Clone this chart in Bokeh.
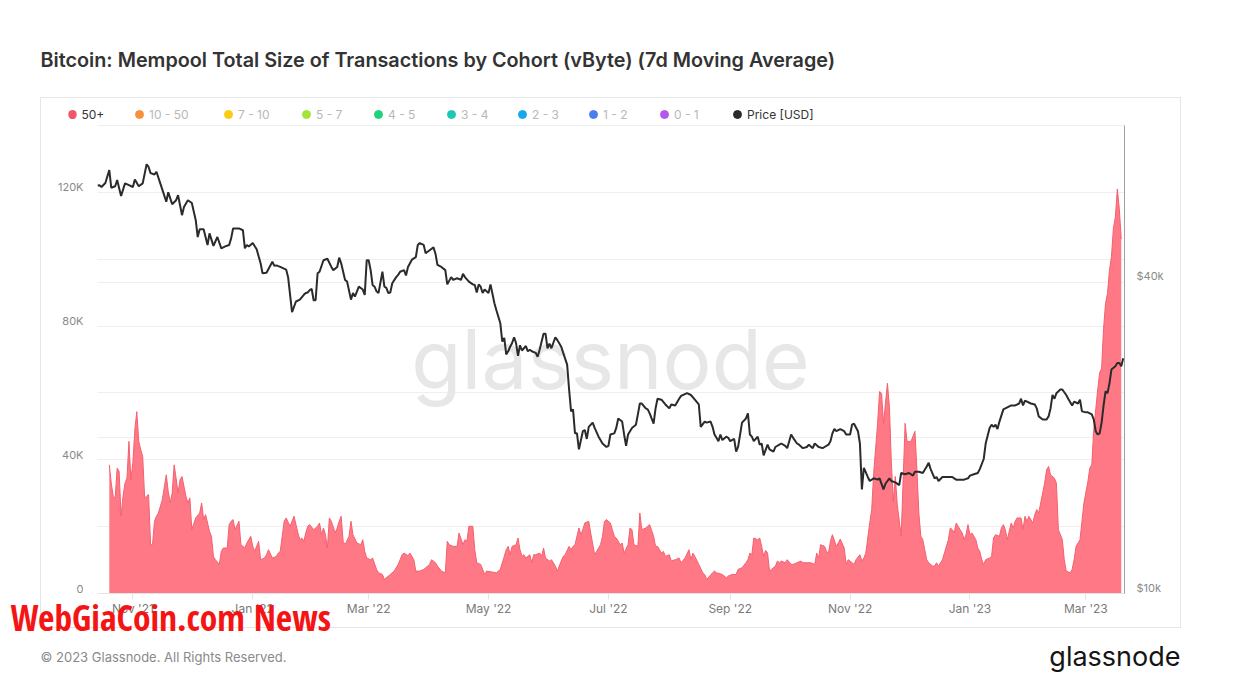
from datetime import datetime, timedelta
from bokeh.plotting import figure
from bokeh.models import (Range1d, LogAxis, LogScale, FixedTicker, DatetimeTickFormatter,
                          Grid, Label, Legend, LegendItem)
from bokeh.embed import file_html
from bokeh.resources import INLINE

# ---------------- data ----------------
BASE = datetime(2021, 10, 14)   # day 0 of the offsets below

price_day = [0, 1, 2, 4, 6, 7, 9, 10, 12, 14,
             16, 18, 19, 21, 23, 25, 26, 27, 29, 30,
             33, 35, 36, 38, 40, 41, 43, 44, 46, 48,
             50, 51, 52, 54, 56, 57, 59, 61, 63, 65,
             67, 68, 69, 72, 74, 75, 76, 77, 79, 81,
             83, 84, 86, 89, 90, 91, 93, 96, 97, 99,
             101, 103, 105, 106, 107, 108, 109, 110, 111, 112,
             113, 115, 117, 119, 120, 122, 123, 124, 126, 127,
             129, 130, 131, 133, 135, 136, 137, 138, 139, 140,
             141, 142, 143, 145, 146, 147, 148, 149, 150, 152,
             153, 154, 156, 157, 158, 160, 162, 163, 164, 166,
             167, 169, 171, 172, 173, 175, 177, 178, 180, 181,
             183, 185, 186, 187, 189, 191, 192, 193, 194, 195,
             196, 197, 199, 200, 202, 203, 205, 206, 207, 208,
             209, 210, 211, 212, 213, 214, 215, 216, 218, 219,
             220, 221, 223, 224, 225, 227, 228, 229, 230, 231,
             233, 234, 236, 237, 239, 240, 241, 242, 243, 244,
             245, 247, 248, 249, 250, 252, 253, 255, 257, 259,
             260, 261, 263, 264, 265, 267, 268, 269, 270, 272,
             274, 275, 276, 277, 279, 280, 281, 283, 284, 285,
             287, 289, 291, 292, 294, 296, 297, 300, 302, 304,
             306, 307, 309, 310, 312, 313, 314, 315, 316, 317,
             318, 320, 321, 322, 324, 325, 326, 328, 330, 331,
             332, 333, 334, 336, 337, 338, 339, 341, 342, 344,
             345, 347, 348, 350, 351, 353, 354, 356, 357, 359,
             361, 362, 364, 365, 367, 369, 370, 372, 373, 374,
             375, 376, 378, 380, 381, 383, 384, 385, 387, 388,
             389, 390, 392, 393, 395, 397, 398, 400, 401, 403,
             404, 406, 408, 409, 411, 413, 415, 416, 418, 420,
             422, 423, 424, 426, 427, 428, 430, 432, 433, 435,
             436, 437, 439, 441, 443, 444, 446, 448, 449, 451,
             452, 454, 455, 456, 457, 458, 459, 461, 462, 464,
             465, 467, 469, 470, 471, 472, 475, 477, 478, 479,
             481, 483, 484, 485, 486, 487, 488, 490, 491, 493,
             494, 496, 497, 499, 500, 501, 503, 504, 506, 507,
             508, 509, 510, 511, 512, 513, 514, 515, 516, 518,
             519, 520, 521, 522]
price_usd = [61500, 61600, 61100, 62200, 65900, 60900, 61300, 63000, 58700, 62100,
             61600, 61100, 63200, 61300, 62100, 67600, 66800, 65000, 64600, 65400,
             60400, 57200, 59700, 56600, 57600, 58900, 53900, 55900, 57600, 56900,
             52700, 48900, 50600, 50600, 47200, 49700, 47000, 48900, 46500, 46900,
             47200, 48600, 50800, 50800, 50400, 46500, 47200, 46900, 47600, 46300,
             43500, 41600, 41700, 43800, 43000, 43100, 42800, 42300, 40900, 35000,
             36700, 37000, 37800, 38100, 38200, 38600, 38800, 36900, 36900, 41600,
             41900, 44100, 44400, 42800, 42200, 42800, 44600, 43500, 40400, 40100,
             37000, 38100, 37500, 39200, 38700, 37800, 44100, 44100, 42200, 39500,
             39200, 38400, 38100, 41900, 39200, 39000, 38100, 38200, 39800, 40900,
             41300, 41900, 42200, 41200, 42800, 44200, 44700, 47200, 47600, 47200,
             45500, 46100, 46700, 45400, 43200, 42800, 42200, 39600, 40900, 40400,
             40700, 40400, 41500, 40900, 40100, 39600, 39500, 38200, 39600, 39200,
             38100, 38700, 38100, 39600, 36400, 35300, 33300, 30700, 31200, 29000,
             29400, 30000, 30500, 31300, 30500, 28800, 30200, 29500, 30100, 29400,
             29600, 29400, 29200, 28700, 29600, 31800, 31800, 29800, 30400, 29800,
             31300, 30900, 30000, 29200, 27700, 24800, 22500, 22700, 20400, 20400,
             19000, 20600, 20700, 19900, 21000, 21400, 20900, 20100, 19500, 19200,
             19300, 20300, 20400, 20900, 21800, 21500, 20300, 19300, 20300, 20900,
             21200, 22200, 23300, 23300, 22800, 22700, 22300, 21300, 22800, 23800,
             23700, 23200, 22800, 23200, 23100, 23800, 24100, 24400, 24200, 23700,
             23200, 21000, 21500, 21400, 21500, 21000, 20300, 20000, 19700, 20300,
             19800, 20100, 20000, 19700, 19900, 18800, 19200, 21400, 21800, 22300,
             20300, 20100, 19700, 20100, 19400, 19500, 18500, 19400, 19000, 18800,
             19200, 19400, 19500, 19300, 19100, 20300, 20000, 19500, 19400, 19100,
             19200, 19400, 19100, 19500, 19200, 19100, 19200, 19400, 19700, 20400,
             20800, 20600, 20800, 20600, 20300, 20300, 21200, 21300, 20600, 19500,
             15900, 17500, 16800, 16500, 16700, 16600, 16700, 15900, 16300, 16700,
             16500, 16400, 16200, 17100, 17000, 17100, 16900, 17200, 17200, 17100,
             17600, 17900, 17400, 16700, 16800, 16500, 16800, 16800, 16800, 16800,
             16700, 16600, 16600, 16600, 16700, 16900, 17000, 17100, 17400, 18200,
             19500, 20900, 21200, 21000, 21200, 20800, 21500, 22700, 22800, 23000,
             23100, 23100, 23300, 23800, 23100, 23600, 23300, 23200, 22800, 22000,
             21700, 21700, 22000, 22800, 24200, 23800, 24400, 24800, 24800, 24200,
             23800, 23100, 23500, 23300, 23700, 22500, 22400, 22400, 22200, 21700,
             20600, 20300, 20400, 21400, 23100, 24600, 24400, 25500, 27100, 27500,
             27900, 27900, 27500, 28500]

# 50+ cohort mempool size, in thousands of vBytes
mempool_day = [6, 7, 8, 9, 10, 11, 12, 13, 14, 15,
               16, 17, 18, 19, 20, 21, 22, 23, 24, 25,
               26, 27, 28, 29, 30, 31, 33, 35, 36, 37,
               38, 39, 40, 41, 42, 43, 45, 46, 47, 48,
               50, 52, 53, 54, 55, 57, 58, 59, 60, 62,
               63, 64, 66, 67, 68, 69, 70, 72, 73, 75,
               76, 78, 79, 80, 82, 83, 85, 86, 87, 89,
               91, 92, 93, 95, 96, 98, 100, 102, 103, 104,
               105, 106, 107, 108, 110, 111, 112, 113, 114, 115,
               116, 117, 118, 119, 121, 122, 123, 124, 125, 126,
               128, 129, 130, 132, 134, 135, 136, 137, 139, 140,
               142, 143, 145, 146, 148, 149, 151, 153, 154, 155,
               156, 158, 159, 161, 162, 164, 166, 167, 169, 170,
               172, 173, 175, 177, 178, 179, 181, 183, 184, 186,
               187, 188, 189, 191, 192, 193, 195, 197, 198, 201,
               203, 205, 207, 208, 209, 210, 211, 213, 214, 215,
               216, 217, 218, 220, 221, 222, 223, 225, 226, 227,
               228, 230, 231, 233, 234, 236, 237, 238, 240, 241,
               242, 243, 245, 246, 247, 248, 250, 251, 253, 254,
               256, 257, 258, 259, 261, 262, 263, 264, 266, 267,
               268, 270, 271, 272, 273, 275, 276, 277, 279, 280,
               281, 283, 284, 285, 287, 288, 289, 291, 292, 294,
               296, 297, 299, 301, 302, 303, 304, 306, 308, 309,
               310, 312, 313, 314, 315, 318, 320, 321, 323, 325,
               326, 328, 330, 331, 332, 333, 334, 336, 337, 338,
               339, 340, 341, 342, 343, 345, 346, 347, 348, 350,
               351, 353, 354, 356, 358, 359, 361, 363, 365, 366,
               367, 368, 370, 371, 372, 373, 374, 376, 377, 378,
               380, 381, 382, 383, 385, 386, 388, 389, 390, 391,
               393, 394, 395, 397, 398, 399, 400, 401, 402, 403,
               404, 405, 406, 407, 409, 410, 411, 412, 414, 416,
               417, 418, 419, 420, 421, 422, 423, 425, 426, 427,
               428, 430, 431, 433, 434, 435, 436, 437, 439, 440,
               441, 442, 443, 444, 445, 447, 448, 449, 450, 451,
               452, 454, 455, 456, 457, 459, 460, 461, 462, 463,
               465, 466, 467, 468, 470, 471, 472, 473, 474, 476,
               477, 478, 479, 480, 482, 483, 484, 485, 487, 488,
               489, 491, 492, 493, 495, 496, 497, 498, 500, 501,
               502, 504, 505, 506, 507, 509, 510, 511, 512, 513,
               514, 515, 516, 517, 518, 519, 520, 521]
mempool_kvb = [38.5, 33.0, 29.1, 28.6, 37.5, 36.5, 23.1, 29.1, 33.0, 34.5,
               45.5, 34.0, 39.0, 49.0, 54.4, 45.5, 43.0, 41.0, 28.6, 29.1,
               29.6, 14.6, 14.6, 21.6, 23.1, 24.1, 28.1, 35.5, 30.5, 27.1,
               30.0, 38.5, 34.5, 30.0, 34.0, 35.0, 29.1, 27.1, 28.6, 19.1,
               22.6, 24.1, 27.1, 22.1, 23.6, 18.6, 17.1, 11.1, 10.1, 8.7,
               12.6, 13.6, 13.6, 20.6, 21.6, 22.1, 19.1, 21.6, 14.6, 13.6,
               15.1, 17.1, 14.1, 12.6, 15.6, 10.1, 10.6, 11.6, 13.1, 10.6,
               11.1, 12.1, 12.6, 21.6, 22.6, 20.1, 23.1, 18.1, 16.1, 16.6,
               15.6, 18.1, 20.1, 20.6, 19.1, 19.6, 20.1, 21.1, 17.6, 19.6,
               17.6, 13.6, 22.6, 21.6, 18.1, 19.6, 21.6, 23.1, 15.6, 14.6,
               17.1, 21.6, 17.6, 15.1, 14.6, 16.1, 12.6, 10.6, 10.1, 10.6,
               7.2, 6.2, 5.7, 4.2, 5.2, 5.7, 6.7, 8.7, 10.1, 11.6,
               12.1, 11.3, 12.1, 10.1, 6.7, 6.7, 7.2, 7.7, 8.7, 10.1,
               9.2, 8.2, 6.7, 6.2, 15.6, 14.6, 14.1, 14.1, 18.1, 14.6,
               16.1, 15.6, 20.1, 20.1, 13.1, 9.2, 8.7, 5.7, 6.7, 6.4,
               6.2, 7.2, 11.1, 13.1, 14.1, 11.6, 14.1, 14.6, 16.6, 13.1,
               11.1, 11.6, 10.6, 11.6, 9.2, 11.6, 11.6, 12.1, 11.1, 13.6,
               10.6, 9.7, 10.1, 8.2, 6.7, 9.7, 11.1, 11.6, 14.1, 13.1,
               14.1, 14.6, 19.6, 17.6, 19.1, 21.1, 21.6, 18.1, 11.6, 12.6,
               14.6, 17.1, 21.6, 22.1, 21.1, 19.1, 17.1, 16.6, 14.6, 15.1,
               12.1, 14.6, 19.6, 19.1, 14.6, 14.1, 24.1, 19.1, 19.6, 20.1,
               20.6, 17.1, 14.1, 14.1, 12.1, 12.6, 11.1, 11.6, 9.7, 10.1,
               10.6, 9.2, 10.6, 13.1, 10.1, 12.1, 11.1, 8.7, 6.2, 5.7,
               4.2, 5.5, 6.2, 6.7, 6.2, 5.7, 4.7, 5.2, 5.7, 5.7,
               7.2, 7.7, 9.2, 10.1, 12.1, 11.6, 16.6, 16.1, 16.6, 14.1,
               11.1, 12.9, 12.1, 6.7, 7.2, 8.2, 9.7, 9.2, 9.7, 9.2,
               10.1, 8.7, 8.7, 9.2, 9.7, 9.2, 9.2, 9.2, 8.7, 12.1,
               10.6, 14.6, 14.1, 12.6, 12.1, 15.6, 17.6, 14.1, 15.1, 16.3,
               13.6, 8.7, 10.1, 9.7, 8.7, 10.1, 11.6, 9.7, 10.6, 12.1,
               21.1, 25.1, 36.0, 50.9, 60.4, 59.9, 50.9, 56.9, 62.9, 55.9,
               39.0, 27.6, 35.0, 26.6, 17.1, 34.0, 50.9, 45.5, 45.5, 48.5,
               37.0, 24.0, 17.1, 16.1, 13.1, 10.1, 9.2, 8.2, 8.2, 9.2,
               8.2, 10.1, 12.1, 16.1, 19.6, 19.1, 18.1, 21.1, 19.1, 18.1,
               16.1, 17.6, 20.6, 17.6, 18.1, 16.1, 13.6, 12.6, 10.1, 8.7,
               10.1, 10.6, 11.1, 16.6, 17.6, 17.1, 19.6, 20.6, 19.1, 16.1,
               21.1, 19.6, 21.6, 22.6, 22.6, 19.1, 23.1, 21.6, 23.1, 21.1,
               23.6, 25.1, 24.1, 27.1, 33.0, 37.0, 38.0, 35.5, 34.5, 33.0,
               19.1, 16.1, 10.1, 6.7, 6.2, 7.2, 10.1, 14.1, 16.1, 21.6,
               27.1, 33.5, 37.5, 38.5, 49.0, 60.9, 66.0, 67.4, 79.3, 86.8,
               89.8, 96.7, 100.7, 109.2, 112.6, 121.0, 115.1, 106.0]

x_tick_dates = [datetime(2021, 11, 1), datetime(2022, 1, 1), datetime(2022, 3, 1),
                datetime(2022, 5, 1), datetime(2022, 7, 1), datetime(2022, 9, 1),
                datetime(2022, 11, 1), datetime(2023, 1, 1), datetime(2023, 3, 1)]
left_grid_ticks = [0, 20, 40, 60, 80, 100, 120, 140]
left_tick_values = [0, 40, 80, 120]
left_tick_labels = ["0", "40K", "80K", "120K"]
right_grid_ticks = [10000, 20000, 40000]
right_tick_values = [10000, 40000]
right_tick_labels = ["$10k", "$40k"]

legend_names = ["50+", "10 - 50", "7 - 10", "5 - 7", "4 - 5", "3 - 4", "2 - 3",
                "1 - 2", "0 - 1", "Price [USD]"]
legend_colors = ["#f2556a", "#f7923a", "#fbcc12", "#a6e23a", "#1fd27c", "#1cc8b4",
                 "#16a7f0", "#4a7ef0", "#b257ef", "#2b2b2b"]
legend_active = [True, False, False, False, False, False, False, False, False, True]

# ---------------- figure ----------------
price_x = [BASE + timedelta(days=d) for d in price_day]
mempool_x = [BASE + timedelta(days=d) for d in mempool_day]

FONT = "Inter"
FL, FT, FR, FB = 97, 103, 1124, 594   # frame edges (frame top raised to hold the legend row)
PLOT_TOP = 125                         # top of the charting area (140K / $80k)
W, H = 1251, 699
PX_PER_K = (FB - 192) / 120.0          # left axis pixels per 1K
PX_PER_DEC = (FB - 282) / 0.60206      # right axis pixels per decade

x_start = BASE
x_end = BASE + timedelta(days=(FR - FL) / 1.965)
y_top = (FB - FT) / PX_PER_K
price_top = 10000 * 10 ** ((FB - FT) / PX_PER_DEC)
price_plot_top = 10000 * 10 ** ((FB - PLOT_TOP) / PX_PER_DEC)

p = figure(width=W, height=H, x_axis_type="datetime",
           x_range=Range1d(x_start, x_end), y_range=Range1d(0, y_top),
           output_backend="svg", toolbar_location=None,
           min_border_left=FL, min_border_right=W - FR,
           min_border_top=FT, min_border_bottom=H - FB)
p.title.text = ""
p.outline_line_color = None
p.background_fill_color = "white"
p.border_fill_color = None
# light card frame behind the chart (page decoration)
line = "linear-gradient(#e6e6e6,#e6e6e6)"
p.styles = {"background": (
    f"{line} 40px 97px / 1141px 1px no-repeat, "
    f"{line} 40px 627px / 1141px 1px no-repeat, "
    f"{line} 40px 97px / 1px 531px no-repeat, "
    f"{line} 1180px 97px / 1px 531px no-repeat, white")}

p.extra_y_ranges = {"price": Range1d(10000, price_top)}
p.extra_y_scales = {"price": LogScale()}

# grids
p.xgrid.visible = False
p.ygrid.ticker = FixedTicker(ticks=left_grid_ticks)
p.ygrid.grid_line_color = "#efefef"
p.add_layout(Grid(dimension=1, y_range_name="price",
                  ticker=FixedTicker(ticks=right_grid_ticks),
                  grid_line_color="#efefef"))

# left axis (labels sit ~5px above their grid line)
lshift = 5 / PX_PER_K
lax = p.yaxis[0]
lax.ticker = FixedTicker(ticks=[v + lshift for v in left_tick_values])
lax.major_label_overrides = {v + lshift: t for v, t in zip(left_tick_values, left_tick_labels)}
lax.axis_line_color = None
lax.major_tick_line_color = None
lax.minor_tick_line_color = None
lax.major_label_standoff = 8
lax.major_label_text_font = FONT
lax.major_label_text_font_size = "11px"
lax.major_label_text_color = "#8a8a8a"

# right axis (price, log)
rshift = 10 ** (6 / PX_PER_DEC)
rticks = [int(round(v * rshift)) for v in right_tick_values]
rax = LogAxis(y_range_name="price", ticker=FixedTicker(ticks=rticks),
              major_label_overrides={t: s for t, s in zip(rticks, right_tick_labels)},
              bounds=(10000, price_plot_top))
rax.axis_line_color = "#a0a0a0"
rax.major_tick_line_color = None
rax.minor_tick_line_color = None
rax.major_label_standoff = 6
rax.major_label_text_font = FONT
rax.major_label_text_font_size = "11px"
rax.major_label_text_color = "#8a8a8a"
p.add_layout(rax, "right")

# x axis
xax = p.xaxis[0]
xax.ticker = FixedTicker(ticks=[(d - datetime(1970, 1, 1)).total_seconds() * 1000 for d in x_tick_dates])
fmt = "%b '%y"
xax.formatter = DatetimeTickFormatter(days=fmt, months=fmt, years=fmt)
xax.axis_line_color = "#e4e4e4"
xax.major_tick_line_color = "#e4e4e4"
xax.major_tick_out = 6
xax.major_tick_in = 0
xax.minor_tick_line_color = None
xax.major_label_standoff = 1
xax.major_label_text_font = FONT
xax.major_label_text_font_size = "12px"
xax.major_label_text_color = "#7a7a7a"

# watermark behind the data
p.add_layout(Label(x=610 - FL, y=FB - 360, x_units="screen", y_units="screen",
                   text="glassnode", text_font=FONT, text_font_size="82px",
                   text_color="#e7e7e7", text_align="center", text_baseline="middle",
                   level="underlay"))

# data
p.varea(x=mempool_x, y1=0, y2=mempool_kvb, fill_color="#ff7885", fill_alpha=1.0)
p.line(x=mempool_x, y=mempool_kvb, line_color="#f4606f", line_width=1)
p.line(x=price_x, y=price_usd, y_range_name="price", line_color="#2b2b2b", line_width=2)

# texts outside the frame: kept in side panels (not clipped), placed from the frame's
# bottom-left data corner with pixel offsets
x0_ms = (x_start - datetime(1970, 1, 1)).total_seconds() * 1000

def outside_label(side, text, px, py, **kw):
    lab = Label(x=x0_ms, y=0, x_units="data", y_units="data",
                x_offset=px - FL, y_offset=FB - py, text=text,
                text_baseline="middle", **kw)
    p.add_layout(lab, side)
    return lab

# legend row: one legend per cohort
dot_x = [72, 139, 228, 306, 378, 451, 522, 593, 664, 737]
LEG_CY = 115
GB = 20   # legend glyph box (scatter is drawn at 0.4 of it -> 8px dot)
for name, col, act, cx in zip(legend_names, legend_colors, legend_active, dot_x):
    tcol = "#333333" if act else "#b8b8b8"
    if cx - 5 < FL:
        # left of the frame: dot and text as labels in a side panel
        dot = outside_label("above", " ", cx, LEG_CY, text_font=FONT, text_font_size="1px",
                            text_align="center", background_fill_color=col)
        props = Label.properties()
        if "padding" in props:
            dot.padding = 4
        if "border_radius" in props:
            dot.border_radius = 5
        outside_label("above", name, cx + 9, LEG_CY, text_font=FONT,
                      text_font_size="12px", text_color=tcol)
        continue
    r = p.scatter(x=[x_start], y=[float("nan")], marker="circle", size=8,
                  fill_color=col, line_color=col)
    leg = Legend(items=[LegendItem(label=name, renderers=[r])],
                 location=(cx - FL - GB // 2, FB - LEG_CY - GB // 2), orientation="horizontal",
                 padding=0, margin=0, spacing=0, glyph_width=GB, glyph_height=GB,
                 label_height=GB, label_standoff=0, label_text_font=FONT,
                 label_text_font_size="12px", label_text_color=tcol,
                 border_line_alpha=0, background_fill_alpha=0)
    p.add_layout(leg)

outside_label("above", "Bitcoin: Mempool Total Size of Transactions by Cohort (vByte) (7d Moving Average)",
              40, 60, text_font="Inter SemiBold, Inter", text_font_size="19.8px",
              text_color="#333333")
outside_label("above", "\u00a9 2023 Glassnode. All Rights Reserved.", 40, 657,
              text_font=FONT, text_font_size="13px", text_color="#8a8a8a")
outside_label("below", "WebGiaCoin.com News", 10, 617,
              text_font="Open Sans Condensed, Roboto Condensed, Noto Sans Condensed, DejaVu Sans Condensed, Liberation Sans Narrow, sans-serif",
              text_font_size="35.5px", text_font_style="bold", text_color="#f51414")
outside_label("below", "glassnode", 1180, 657, text_font=FONT, text_font_size="27px",
              text_color="#151515", text_align="right")

open("out.html", "w").write(file_html(p, INLINE))
